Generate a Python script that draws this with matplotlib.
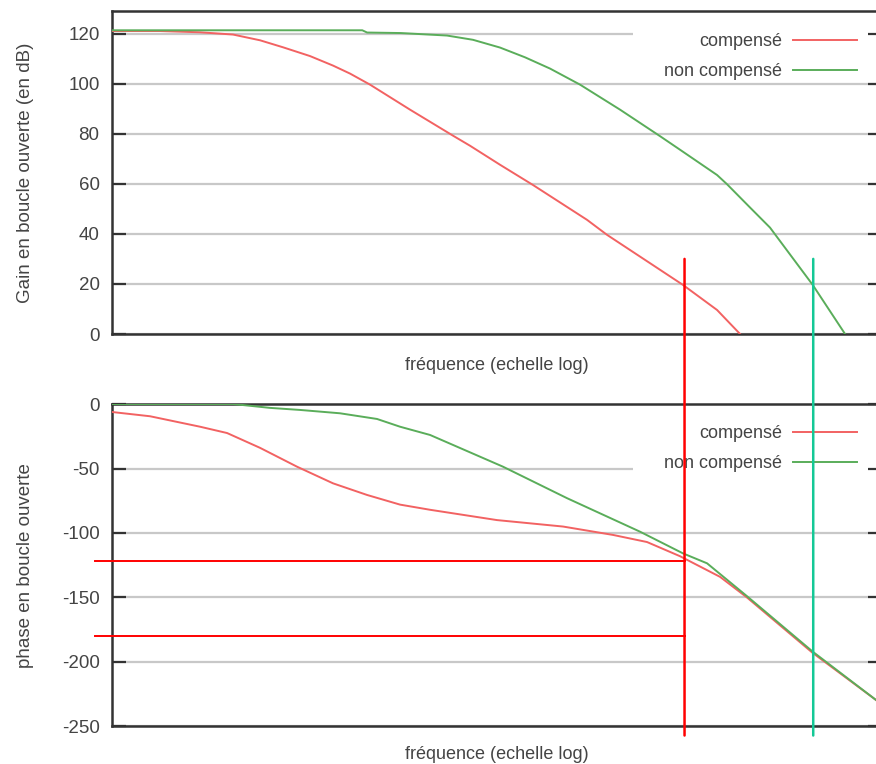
import numpy as np
import matplotlib.pyplot as plt
from matplotlib.patches import Rectangle, ConnectionPatch

plt.rcParams['font.family'] = ['Liberation Sans', 'DejaVu Sans']
plt.rcParams['axes.unicode_minus'] = False

# frequences en log10 (axe de 1 a 1e8)
gain_comp_logf = [0, 0.5, 0.914, 1.257, 1.538, 1.777, 2.057, 2.296, 2.473, 2.68, 3.096,
                  3.543, 3.719, 4.031, 4.374, 4.935, 5.143, 5.589, 5.932, 6.286, 6.525]
gain_comp = [121, 121, 120.5, 119.6, 117.3, 114.5, 111, 107.2, 104, 99.6, 89.6,
             79.2, 75.2, 67.6, 59.5, 45.6, 39.6, 28.3, 19.6, 9.6, 0]

gain_nc_logf = [0, 2.6, 2.65, 3.0, 3.48, 3.75, 4.031, 4.291, 4.551, 4.862, 5.278,
                5.694, 5.901, 6.286, 6.39, 6.629, 6.836, 7.28, 7.616]
gain_nc = [121.3, 121.3, 120.4, 120.2, 119.2, 117.5, 114.4, 110.5, 106, 99.6, 89.6,
           79, 73.6, 63.5, 59.8, 50.5, 42.5, 19.6, 0]

phase_comp_logf = [0, 0.395, 0.914, 1.195, 1.538, 1.922, 2.296, 2.649, 2.992, 3.304,
                   4.0, 4.686, 5.205, 5.558, 5.901, 6.317, 6.597, 7.28, 7.938, 8.0]
phase_comp = [-6.2, -9.5, -17.6, -22.5, -34, -48.6, -61.5, -70.5, -78, -82,
              -90, -95, -101.5, -107, -118, -134, -150, -193, -229.5, -233]

phase_nc_logf = [0, 1.257, 1.64, 1.953, 2.369, 2.753, 2.992, 3.304, 4.062, 4.727,
                 5.486, 5.932, 6.182, 6.597, 7.28, 7.938, 8.0]
phase_nc = [0, 0, -3, -4.6, -7.2, -11.6, -17.6, -24, -48.6, -73,
            -99, -115.8, -123.5, -149, -192, -229.5, -233]

gain_ticks = [0, 20, 40, 60, 80, 100, 120]
phase_ticks = [0, -50, -100, -150, -200, -250]

# annotations : frequences de coupure et phases lues
f_coupure_comp = 10 ** 5.948
f_coupure_nc = 10 ** 7.285
f_trait_debut = 10 ** -0.177
phases_marquees = [-122, -180]
gain_haut_trait = 30
phase_bas_trait = -257

couleur_comp = '#f26262'
couleur_nc = '#5aad5a'
gris = '#444444'

fig = plt.figure(figsize=(8.76, 7.64), dpi=100)
ax1 = fig.add_axes([0.1279, 0.5628, 0.879, 0.4228])
ax2 = fig.add_axes([0.1279, 0.0491, 0.879, 0.4221])


def habiller(ax, ticks, ylim, ylabel, label_y, fond_y):
    ax.set_xscale('log')
    ax.set_xlim(1, 1e8)
    ax.set_ylim(*ylim)
    ax.set_yticks(ticks)
    ax.set_xticks([])
    ax.minorticks_off()
    ax.tick_params(axis='y', direction='in', length=10, width=1.6, color='#333333',
                   left=True, right=True, labelsize=13.5, labelcolor=gris, pad=9)
    for sp in ax.spines.values():
        sp.set_color('#333333')
        sp.set_linewidth(1.8)
    for t in ticks:
        ax.axhline(t, color='#c8c8c8', lw=1.6, zorder=1)
    # fond blanc de la legende (cache la grille)
    ax.add_patch(Rectangle((0.6766, fond_y), 0.3234, 1 - fond_y, transform=ax.transAxes,
                           facecolor='white', edgecolor='none', zorder=1.5))
    ax.set_ylabel(ylabel, fontsize=13.5, color=gris)
    ax.yaxis.set_label_coords(-0.101, 0.5)
    ax.set_xlabel('fréquence (echelle log)', fontsize=13, color=gris)
    ax.xaxis.set_label_coords(0.5, label_y)


habiller(ax1, gain_ticks, (0, 129), 'Gain en boucle ouverte (en dB)', -0.07, 0.786)
habiller(ax2, phase_ticks, (-250, 0), 'phase en boucle ouverte', -0.06, 0.777)

ax1.plot(10 ** np.array(gain_comp_logf), gain_comp, color=couleur_comp, lw=1.4, zorder=3, label='compensé')
ax1.plot(10 ** np.array(gain_nc_logf), gain_nc, color=couleur_nc, lw=1.4, zorder=3, label='non compensé')
ax2.plot(10 ** np.array(phase_comp_logf), phase_comp, color=couleur_comp, lw=1.4, zorder=3, label='compensé')
ax2.plot(10 ** np.array(phase_nc_logf), phase_nc, color=couleur_nc, lw=1.4, zorder=3, label='non compensé')

for ax, ancre_y in [(ax1, 0.932), (ax2, 0.935)]:
    ax.legend(loc='upper right', bbox_to_anchor=(0.9675, ancre_y), frameon=False,
              markerfirst=False, borderpad=0, borderaxespad=0, handlelength=3.55,
              handletextpad=0.6, labelspacing=0.72, fontsize=13, labelcolor=gris)

# traits de lecture
for ph in phases_marquees:
    ax2.plot([f_trait_debut, f_coupure_comp], [ph, ph], color='#ff0000', lw=1.4,
             clip_on=False, zorder=4)
for fc, coul in [(f_coupure_comp, '#ff0000'), (f_coupure_nc, '#14c896')]:
    cp = ConnectionPatch(xyA=(fc, gain_haut_trait), coordsA=ax1.transData,
                         xyB=(fc, phase_bas_trait), coordsB=ax2.transData,
                         color=coul, lw=1.8, zorder=5)
    fig.add_artist(cp)

plt.savefig('out.png', dpi=100)
plt.close()
